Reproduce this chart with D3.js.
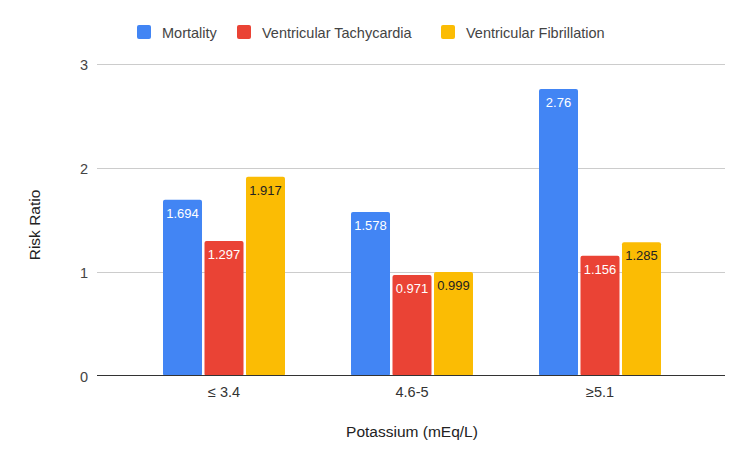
<!DOCTYPE html>
<html><head><meta charset="utf-8">
<script src="https://cdn.jsdelivr.net/npm/d3@7"></script>
<style>body{margin:0;background:#fff}svg{display:block;font-family:"Liberation Sans",Arial,sans-serif}</style>
</head><body><svg id="c" width="750" height="464"></svg>
<script>
const categories = ["≤ 3.4", "4.6-5", "≥5.1"];
const seriesNames = ["Mortality", "Ventricular Tachycardia", "Ventricular Fibrillation"];
const mortality = [1.694, 1.578, 2.76];
const vTach = [1.297, 0.971, 1.156];
const vFib = [1.917, 0.999, 1.285];
const yTicks = [0, 1, 2, 3];
const colors = ["#4285f4", "#ea4335", "#fbbc04"];
const labelColors = ["#ffffff", "#ffffff", "#222222"];
const series = [mortality, vTach, vFib];

const svg = d3.select("#c");
const gridL = 97, gridR = 725;
const y = d3.scaleLinear().domain([0, 3]).range([376, 64]);
const x0 = d3.scaleBand().domain(categories).range([130, 694]).paddingInner(0).paddingOuter(0);
const x1 = d3.scaleBand().domain(d3.range(3)).range([x0.bandwidth()/2 - 61, x0.bandwidth()/2 + 61]).paddingInner(0.06);

// gridlines
svg.append("g").selectAll("line").data(yTicks.filter(d => d > 0)).join("line")
  .attr("x1", gridL).attr("x2", gridR)
  .attr("y1", d => Math.round(y(d)) + 0.5).attr("y2", d => Math.round(y(d)) + 0.5)
  .attr("stroke", "#cccccc");
// y tick labels
svg.append("g").selectAll("text").data(yTicks).join("text")
  .attr("x", 88).attr("y", d => y(d) + 5.5).attr("text-anchor", "end")
  .attr("font-size", 14.5).attr("fill", "#444").text(d => d);

// bars
const groups = svg.append("g").selectAll("g").data(categories).join("g")
  .attr("transform", d => `translate(${x0(d)},0)`);
groups.each(function(cat, ci) {
  const g = d3.select(this);
  series.forEach((s, si) => {
    const v = s[ci];
    g.append("rect").attr("x", x1(si)).attr("width", x1.bandwidth())
      .attr("y", y(v)).attr("height", y(0) - y(v))
      .attr("rx", 2).attr("fill", colors[si]);
    g.append("text").attr("x", x1(si) + x1.bandwidth()/2).attr("y", y(v) + 18)
      .attr("text-anchor", "middle").attr("font-size", 13)
      .attr("fill", labelColors[si]).text(v);
  });
});

// baseline
svg.append("line").attr("x1", gridL).attr("x2", gridR)
  .attr("y1", y(0) - 0.5).attr("y2", y(0) - 0.5).attr("stroke", "#333");

// x labels
svg.append("g").selectAll("text").data(categories).join("text")
  .attr("x", d => x0(d) + x0.bandwidth()/2).attr("y", 397)
  .attr("text-anchor", "middle").attr("font-size", 14.5).attr("fill", "#333").text(d => d);

svg.append("text").attr("x", 412).attr("y", 437).attr("text-anchor", "middle")
  .attr("font-size", 15.5).attr("fill", "#222").text("Potassium (mEq/L)");
svg.append("text").attr("transform", "translate(40,225) rotate(-90)").attr("text-anchor", "middle")
  .attr("font-size", 15.5).attr("fill", "#222").text("Risk Ratio");

// legend
const legX = [137, 237, 441];
const leg = svg.append("g");
seriesNames.forEach((n, i) => {
  leg.append("rect").attr("x", legX[i]).attr("y", 25).attr("width", 14).attr("height", 14)
    .attr("rx", 2).attr("fill", colors[i]);
  leg.append("text").attr("x", legX[i] + 25).attr("y", 37.5).attr("font-size", 14.5)
    .attr("fill", "#444").text(n);
});
</script></body></html>
